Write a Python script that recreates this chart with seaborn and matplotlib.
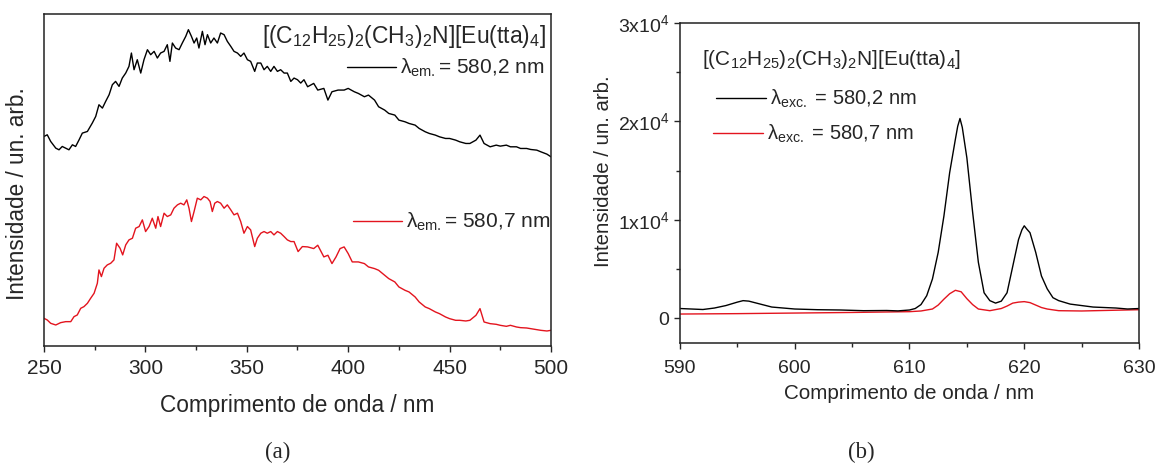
import matplotlib
matplotlib.use("Agg")
import matplotlib.pyplot as plt
import seaborn as sns
import pandas as pd
from matplotlib.ticker import MultipleLocator

sns.set_style("ticks")
plt.rcParams['font.family'] = ['Liberation Sans', 'DejaVu Sans']
plt.rcParams['mathtext.default'] = 'regular'

# ---------------- data panel (a): excitation spectra (arb. units) ----------------
wl_a_black = [250.0, 251.6, 253.3, 255.8, 257.4, 259.0, 260.7, 262.3, 264.0, 265.6, 267.3,
              268.9, 271.4, 273.8, 275.5, 277.1, 278.8, 280.4, 282.1, 283.7, 285.3, 287.0,
              288.6, 290.3, 291.9, 293.1, 294.4, 296.0, 297.7, 299.3, 301.0, 302.6, 304.3,
              305.9, 307.5, 309.2, 310.8, 312.1, 313.3, 314.9, 316.6, 318.2, 319.9, 321.2,
              322.7, 324.0, 325.3, 326.4, 328.1, 329.4, 330.6, 332.2, 333.8, 335.5, 337.1,
              338.8, 340.4, 342.1, 343.7, 345.4, 347.0, 348.6, 350.3, 351.9, 353.9, 355.2,
              356.9, 358.5, 360.1, 361.8, 363.4, 365.1, 366.7, 368.4, 370.0, 371.7, 373.3,
              375.0, 376.6, 378.2, 380, 383, 385, 388, 390, 392, 395, 398, 400, 403, 405,
              408, 410, 413, 415, 418, 420, 423, 425, 428, 430, 433, 435, 438, 440, 443,
              445, 448, 450, 453, 455, 458, 460, 463, 465, 467, 470, 473, 475, 478, 480,
              483, 485, 488, 490, 493, 495, 498, 500]
int_a_black = [628, 633, 613, 593, 588, 598, 593, 588, 603, 598, 618,
               638, 643, 668, 688, 723, 713, 733, 753, 783, 793, 778,
               803, 818, 838, 878, 828, 858, 818, 858, 888, 873, 883,
               863, 878, 883, 903, 853, 908, 893, 888, 908, 928, 948,
               928, 908, 923, 893, 943, 903, 933, 908, 923, 908, 938,
               933, 913, 898, 883, 878, 868, 878, 858, 853, 823, 848,
               848, 828, 838, 823, 838, 823, 828, 818, 818, 793, 803,
               798, 788, 798, 777, 787, 767, 772, 737, 762, 767, 767, 772, 762, 757,
               747, 752, 737, 717, 707, 697, 692, 677, 672, 667, 662, 652, 642, 637, 632,
               627, 622, 622, 617, 612, 607, 607, 617, 632, 607, 597, 602, 599, 602, 597,
               597, 592, 592, 589, 587, 582, 575, 567]

wl_a_red = [250.0, 251.6, 253.3, 255.8, 258.2, 260.7, 263.2, 264.8, 266.4, 268.1, 269.7,
            271.4, 273.0, 274.7, 276.3, 277.1, 278.3, 279.6, 281.2, 282.9, 284.5, 285.8,
            287.5, 288.8, 290.3, 291.9, 293.6, 295.2, 296.9, 298.5, 300.1, 301.8, 303.4,
            305.1, 306.2, 307.5, 309.2, 310.8, 312.5, 314.1, 315.8, 317.4, 319.0, 320.4,
            321.5, 322.7, 324.0, 325.6, 327.3, 328.9, 330.6, 331.9, 333.0, 334.2, 335.5,
            337.1, 338.8, 340.4, 342.1, 343.7, 345.4, 347.0, 348.6, 350.3, 351.9, 353.9,
            355.2, 356.9, 358.5, 360.1, 361.8, 363.4, 365.1, 366.7, 368.4, 370.0, 371.7,
            373.3, 375.3, 377.4, 380, 383, 385, 388, 390, 392, 394, 396, 398, 400, 402,
            405, 408, 410, 413, 415, 418, 420, 423, 425, 428, 430, 433, 435, 438, 440,
            443, 445, 448, 450, 453, 455, 458, 460, 463, 465, 467, 470, 473, 475, 478,
            480, 483, 485, 488, 490, 493, 495, 498, 500]
int_a_red = [83, 78, 68, 63, 70, 73, 73, 88, 93, 113, 118,
             128, 143, 158, 188, 228, 208, 233, 243, 248, 258, 308,
             293, 273, 303, 318, 323, 353, 358, 378, 343, 358, 383,
             353, 388, 358, 398, 388, 393, 413, 423, 428, 423, 438,
             413, 373, 403, 443, 438, 448, 443, 433, 403, 428, 433,
             428, 413, 423, 408, 393, 398, 373, 338, 358, 348, 298,
             323, 338, 343, 338, 343, 333, 343, 338, 328, 318, 313,
             313, 283, 298, 297, 292, 302, 267, 272, 247, 267, 292, 297, 277, 252,
             252, 247, 237, 232, 227, 212, 202, 192, 177, 167, 162, 147, 132, 117, 112,
             102, 97, 87, 82, 77, 77, 75, 77, 92, 112, 72, 67, 65, 62, 59,
             62, 57, 55, 54, 52, 49, 47, 45, 47]

# ---------------- data panel (b): emission spectra ----------------
wl_b_black = [590, 591, 592, 593, 594, 595, 595.5, 596, 597, 598, 599, 600, 602, 604,
              606, 608, 609, 610, 610.5, 611, 611.5, 612, 612.5, 613, 613.5, 614, 614.2,
              614.4, 614.6, 615, 615.5, 616, 616.5, 617, 617.5, 618, 618.5, 619, 619.5,
              619.8, 620, 620.2, 620.5, 621, 621.5, 622, 622.5, 623, 624, 625, 626, 627,
              628, 629, 630]
int_b_black = [1000, 950, 900, 1050, 1300, 1650, 1800, 1750, 1450, 1150, 1050, 950, 880,
               850, 780, 800, 760, 850, 1000, 1400, 2300, 4000, 6700, 10400, 14800, 18200,
               19500, 20300, 19400, 16300, 10800, 5700, 2600, 1800, 1550, 1750, 2600, 5300,
               8000, 9000, 9400, 9100, 8700, 6700, 4300, 3000, 2100, 1800, 1450, 1300,
               1150, 1100, 1050, 950, 1000]

wl_b_red = [590, 595, 600, 605, 610, 611, 612, 612.5, 613, 613.5, 614, 614.5, 615, 615.5,
            616, 617, 618, 618.5, 619, 619.5, 620, 620.5, 621, 621.5, 622, 623, 625, 630]
int_b_red = [440, 480, 540, 600, 680, 750, 950, 1350, 1950, 2500, 2850, 2700, 2000, 1400,
             950, 780, 1000, 1250, 1550, 1650, 1700, 1600, 1350, 1100, 950, 780, 750, 880]

formula = r'[(C$_{12}$H$_{25}$)$_2$(CH$_3$)$_2$N][Eu(tta)$_4$]'
lab_em_1 = r'$\lambda_{em.}$= 580,2 nm'
lab_em_2 = r'$\lambda_{em.}$= 580,7 nm'
lab_ex_1 = r'$\lambda_{exc.}$ = 580,2 nm'
lab_ex_2 = r'$\lambda_{exc.}$ = 580,7 nm'
xlabel = 'Comprimento de onda / nm'
ylabel = 'Intensidade / un. arb.'
b_yticks = [0, 10000, 20000, 30000]
b_yticklabels = ['0', r'1x10$^4$', r'2x10$^4$', r'3x10$^4$']

BLACK = '#000000'
RED = '#e3141e'

fig = plt.figure(figsize=(11.58, 4.65), dpi=100)
axa = fig.add_axes([0.038, 0.2559, 0.4378, 0.714])
axb = fig.add_axes([0.5872, 0.2624, 0.3964, 0.6882])

dfa1 = pd.DataFrame({'x': wl_a_black, 'y': int_a_black})
dfa2 = pd.DataFrame({'x': wl_a_red, 'y': int_a_red})
dfb1 = pd.DataFrame({'x': wl_b_black, 'y': int_b_black})
dfb2 = pd.DataFrame({'x': wl_b_red, 'y': int_b_red})

sns.lineplot(data=dfa1, x='x', y='y', ax=axa, color=BLACK, lw=1.0, label=lab_em_1, legend=False)
sns.lineplot(data=dfa2, x='x', y='y', ax=axa, color=RED, lw=1.0, label=lab_em_2, legend=False)
sns.lineplot(data=dfb2, x='x', y='y', ax=axb, color=RED, lw=1.0, label=lab_ex_2, legend=False)
sns.lineplot(data=dfb1, x='x', y='y', ax=axb, color=BLACK, lw=1.0, label=lab_ex_1, legend=False)

for ax in (axa, axb):
    for s in ax.spines.values():
        s.set_visible(True)
        s.set_linewidth(1.1)
        s.set_color('#222222')

# panel (a)
axa.set_xlim(250, 500)
axa.set_ylim(0, 995)
axa.set_yticks([])
axa.xaxis.set_major_locator(MultipleLocator(50))
axa.xaxis.set_minor_locator(MultipleLocator(25))
axa.tick_params(axis='x', which='major', direction='out', length=4, width=1, labelsize=15, pad=5)
axa.tick_params(axis='x', which='minor', direction='out', length=3, width=1)
axa.set_xlabel(xlabel, fontsize=16.3, va='top')
axa.xaxis.set_label_coords(0.5, -0.145)
axa.set_ylabel(ylabel, fontsize=16.3)
axa.yaxis.set_label_coords(-0.03, 0.46)
axa.text(0.99, 0.9127, formula, transform=axa.transAxes, ha='right', va='baseline', fontsize=16.5)

la = axa.get_lines()
leg1 = axa.legend(handles=[la[0]], labels=[lab_em_1], loc='center left',
                  bbox_to_anchor=(0.5976, 0.837), frameon=False, fontsize=15,
                  handlelength=2.35, handletextpad=0.2, borderpad=0, borderaxespad=0)
axa.add_artist(leg1)
axa.legend(handles=[la[1]], labels=[lab_em_2], loc='center left',
           bbox_to_anchor=(0.6095, 0.3735), frameon=False, fontsize=15,
           handlelength=2.35, handletextpad=0.2, borderpad=0, borderaxespad=0)

# panel (b)
axb.set_xlim(590, 630)
axb.set_ylim(-2500, 30000)
axb.set_yticks(b_yticks)
axb.set_yticklabels(b_yticklabels)
axb.xaxis.set_major_locator(MultipleLocator(10))
axb.xaxis.set_minor_locator(MultipleLocator(5))
axb.yaxis.set_minor_locator(MultipleLocator(5000))
axb.tick_params(axis='both', which='major', direction='out', length=4, width=1, labelsize=14)
axb.tick_params(axis='both', which='minor', direction='out', length=3, width=1)
axb.tick_params(axis='x', which='major', pad=8)
axb.set_xlabel(xlabel, fontsize=14.9, va='top')
axb.xaxis.set_label_coords(0.5, -0.128)
axb.set_ylabel(ylabel, fontsize=14.7)
axb.yaxis.set_label_coords(-0.146, 0.5375)
axb.text(0.048, 0.869, formula, transform=axb.transAxes, ha='left', va='baseline', fontsize=15)

lb = axb.get_lines()
leg3 = axb.legend(handles=[lb[1]], labels=[lab_ex_1], loc='center left',
                  bbox_to_anchor=(0.078, 0.7625), frameon=False, fontsize=14.5,
                  handlelength=2.5, handletextpad=0.2, borderpad=0, borderaxespad=0)
axb.add_artist(leg3)
axb.legend(handles=[lb[0]], labels=[lab_ex_2], loc='center left',
           bbox_to_anchor=(0.072, 0.653), frameon=False, fontsize=14.5,
           handlelength=2.5, handletextpad=0.2, borderpad=0, borderaxespad=0)

fig.text(0.240, 0.028, '(a)', ha='center', va='center', fontsize=16.5, family='Liberation Serif')
fig.text(0.744, 0.028, '(b)', ha='center', va='center', fontsize=16.5, family='Liberation Serif')

fig.savefig('out.png', dpi=100, facecolor='white')
